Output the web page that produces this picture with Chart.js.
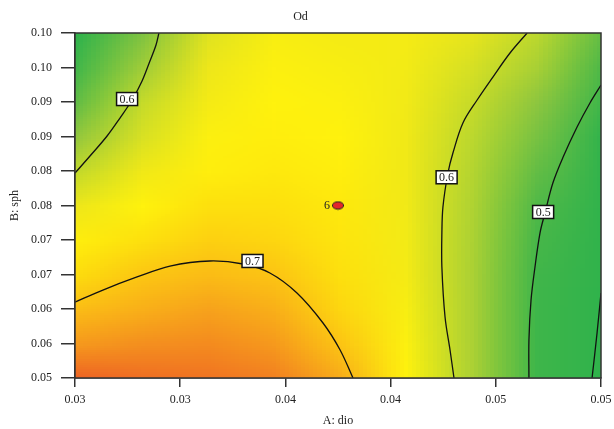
<!DOCTYPE html>
<html>
<head>
<meta charset="utf-8">
<script src="https://cdn.jsdelivr.net/npm/chart.js@4.4.0/dist/chart.umd.min.js"></script>
<style>
html, body { margin: 0; padding: 0; background: #fff; }
#wrap { width: 614px; height: 429px; }
</style>
</head>
<body>
<div id="wrap"><canvas id="odChart" width="614" height="429"></canvas></div>
<script>
// axes
var X_MIN = 0.03, X_MAX = 0.05;
var Y_MIN = 0.05, Y_MAX = 0.10;
var xTickValues = [0.030, 0.034, 0.038, 0.042, 0.046, 0.050];
var xTickLabels = ["0.03", "0.03", "0.04", "0.04", "0.05", "0.05"];
var yTickValues = [0.050, 0.055, 0.060, 0.065, 0.070, 0.075, 0.080, 0.085, 0.090, 0.095, 0.100];
var yTickLabels = ["0.05", "0.06", "0.06", "0.07", "0.07", "0.08", "0.08", "0.09", "0.09", "0.10", "0.10"];

// Od response (rows = B from 0.05 up, cols = A from 0.03)
var gridA = [0.030, 0.0325, 0.035, 0.0375, 0.040, 0.0425, 0.045, 0.0475, 0.050];
var gridB = [0.050, 0.055, 0.060, 0.065, 0.070, 0.075, 0.080, 0.085, 0.090, 0.095, 0.100];
var odGrid = [
    [0.80, 0.79, 0.785, 0.775, 0.73, 0.655, 0.583, 0.495, 0.38],
    [0.75, 0.76, 0.765, 0.75, 0.70, 0.65, 0.583, 0.495, 0.39],
    [0.71, 0.725, 0.74, 0.725, 0.685, 0.645, 0.583, 0.495, 0.397],
    [0.68, 0.698, 0.71, 0.70, 0.675, 0.64, 0.583, 0.498, 0.41],
    [0.66, 0.675, 0.69, 0.685, 0.67, 0.638, 0.584, 0.505, 0.425],
    [0.63, 0.655, 0.675, 0.675, 0.665, 0.636, 0.586, 0.515, 0.445],
    [0.60, 0.635, 0.66, 0.665, 0.66, 0.635, 0.59, 0.53, 0.465],
    [0.565, 0.615, 0.65, 0.66, 0.655, 0.635, 0.595, 0.545, 0.48],
    [0.53, 0.602, 0.64, 0.655, 0.65, 0.636, 0.603, 0.56, 0.495],
    [0.50, 0.575, 0.63, 0.65, 0.645, 0.638, 0.613, 0.58, 0.51],
    [0.47, 0.55, 0.62, 0.645, 0.64, 0.64, 0.625, 0.595, 0.53]
];

// contour lines [A, B]
var contourUL06 = [[0.0300, 0.0797], [0.03057, 0.08217], [0.03122, 0.08507], [0.03171, 0.08768], [0.03217, 0.09029], [0.03255, 0.09304], [0.03285, 0.09594], [0.03308, 0.09826], [0.03319, 0.1000]];
var contour07 = [[0.0300, 0.0610], [0.03106, 0.06275], [0.03236, 0.06464], [0.03361, 0.06623], [0.03513, 0.06696], [0.03639, 0.06652], [0.03741, 0.06522], [0.03844, 0.06232], [0.03943, 0.05797], [0.04008, 0.05406], [0.04057, 0.0500]];
var contourR06 = [[0.04719, 0.1000], [0.04654, 0.0971], [0.04589, 0.09362], [0.04529, 0.09029], [0.04475, 0.08696], [0.04437, 0.08261], [0.04418, 0.07971], [0.04399, 0.07478], [0.04395, 0.07101], [0.04395, 0.06609], [0.04407, 0.05884], [0.04426, 0.05406], [0.04441, 0.0500]];
var contour05 = [[0.0500, 0.09246], [0.04958, 0.08986], [0.04909, 0.08638], [0.04856, 0.08203], [0.04817, 0.07826], [0.04787, 0.07391], [0.04768, 0.07101], [0.04749, 0.06609], [0.04734, 0.0613], [0.04726, 0.05551], [0.04726, 0.0500]];
var contour04 = [[0.0500, 0.06232], [0.04985, 0.05652], [0.04966, 0.0500]];

var contourLabels = [
    { text: "0.6", x: 0.03198, y: 0.09043 },
    { text: "0.7", x: 0.03675, y: 0.06696 },
    { text: "0.6", x: 0.04413, y: 0.07909 },
    { text: "0.5", x: 0.04780, y: 0.07406 }
];

var designPoint = { x: 0.040, y: 0.075, count: "6" };

// colour scale value -> colour
var colorStops = [
    [0.48, [48, 179, 76]],
    [0.52, [85, 186, 71]],
    [0.56, [141, 198, 63]],
    [0.60, [195, 218, 43]],
    [0.63, [238, 231, 26]],
    [0.655, [255, 242, 13]],
    [0.68, [253, 220, 14]],
    [0.70, [252, 196, 20]],
    [0.74, [247, 162, 28]],
    [0.77, [243, 134, 32]],
    [0.80, [238, 98, 36]]
];

var FONT = "'Liberation Serif', 'DejaVu Serif', serif";
var INK = "#222";

function colorFor(v) {
    if (v <= colorStops[0][0]) return colorStops[0][1];
    for (var i = 1; i < colorStops.length; i++) {
        if (v <= colorStops[i][0]) {
            var a = colorStops[i - 1], b = colorStops[i];
            var t = (v - a[0]) / (b[0] - a[0]);
            return [0, 1, 2].map(function (k) { return Math.round(a[1][k] + (b[1][k] - a[1][k]) * t); });
        }
    }
    return colorStops[colorStops.length - 1][1];
}

function toXY(arr) {
    return arr.map(function (p) { return { x: p[0], y: p[1] }; });
}

function contourSet(arr) {
    return {
        data: toXY(arr),
        showLine: true,
        pointRadius: 0,
        borderColor: "#111",
        borderWidth: 1.3,
        tension: 0.35,
        fill: false
    };
}

// red ellipse for the centre point
function makeDot() {
    var c = document.createElement("canvas");
    c.width = 14; c.height = 10;
    var g = c.getContext("2d");
    g.beginPath();
    g.ellipse(7, 5, 5.6, 3.7, 0, 0, Math.PI * 2);
    g.fillStyle = "#e3262a";
    g.fill();
    g.lineWidth = 1;
    g.strokeStyle = "#222";
    g.stroke();
    return c;
}

var heatmapPlugin = {
    id: "heatmap",
    beforeDatasetsDraw: function (chart) {
        var ctx = chart.ctx, area = chart.chartArea;
        var xs = chart.scales.x, ys = chart.scales.y;
        var nc = gridA.length, nr = gridB.length;
        var img = document.createElement("canvas");
        img.width = nc; img.height = nr;
        var g = img.getContext("2d");
        var id = g.createImageData(nc, nr);
        for (var r = 0; r < nr; r++) {
            for (var c = 0; c < nc; c++) {
                var col = colorFor(odGrid[r][c]);
                var o = ((nr - 1 - r) * nc + c) * 4;
                id.data[o] = col[0]; id.data[o + 1] = col[1]; id.data[o + 2] = col[2]; id.data[o + 3] = 255;
            }
        }
        g.putImageData(id, 0, 0);
        var x0 = xs.getPixelForValue(gridA[0]), x1 = xs.getPixelForValue(gridA[nc - 1]);
        var y0 = ys.getPixelForValue(gridB[nr - 1]), y1 = ys.getPixelForValue(gridB[0]);
        var cw = (x1 - x0) / (nc - 1), ch = (y1 - y0) / (nr - 1);
        ctx.save();
        ctx.beginPath();
        ctx.rect(area.left, area.top, area.right - area.left, area.bottom - area.top);
        ctx.clip();
        ctx.imageSmoothingEnabled = true;
        ctx.imageSmoothingQuality = "low";
        ctx.drawImage(img, x0 - cw / 2, y0 - ch / 2, cw * nc, ch * nr);
        ctx.restore();
    }
};

var labelPlugin = {
    id: "labels",
    afterDatasetsDraw: function (chart) {
        var ctx = chart.ctx, area = chart.chartArea;
        var xs = chart.scales.x, ys = chart.scales.y;
        ctx.save();
        ctx.font = "12px " + FONT;
        ctx.textAlign = "center";
        ctx.textBaseline = "middle";
        contourLabels.forEach(function (l) {
            var px = xs.getPixelForValue(l.x), py = ys.getPixelForValue(l.y);
            var w = ctx.measureText(l.text).width + 6, h = 13;
            ctx.fillStyle = "#fff";
            ctx.fillRect(px - w / 2, py - h / 2, w, h);
            ctx.lineWidth = 1.5;
            ctx.strokeStyle = "#111";
            ctx.strokeRect(px - w / 2, py - h / 2, w, h);
            ctx.fillStyle = INK;
            ctx.fillText(l.text, px, py + 0.5);
        });
        ctx.textAlign = "right";
        ctx.fillText(designPoint.count, xs.getPixelForValue(designPoint.x) - 8, ys.getPixelForValue(designPoint.y) + 0.5);
        // frame
        ctx.lineWidth = 1.5;
        ctx.strokeStyle = "#333";
        ctx.strokeRect(area.left, area.top, area.right - area.left, area.bottom - area.top);
        ctx.restore();
    }
};

Chart.defaults.font.family = FONT;
Chart.defaults.color = INK;

var config = {
    type: "scatter",
    data: {
        datasets: [
            contourSet(contourUL06),
            contourSet(contour07),
            contourSet(contourR06),
            contourSet(contour05),
            contourSet(contour04),
            {
                data: [{ x: designPoint.x, y: designPoint.y }],
                pointStyle: makeDot(),
                pointRadius: 5,
                showLine: false
            }
        ]
    },
    options: {
        responsive: false,
        animation: false,
        layout: { padding: { left: 0, right: 13, top: 0, bottom: 0 } },
        plugins: {
            legend: { display: false },
            tooltip: { enabled: false },
            title: {
                display: true,
                text: "Od",
                color: INK,
                font: { size: 12, weight: "normal", family: FONT },
                padding: { top: 10, bottom: 8.6 }
            }
        },
        scales: {
            x: {
                type: "linear",
                min: X_MIN,
                max: X_MAX,
                afterBuildTicks: function (scale) {
                    scale.ticks = xTickValues.map(function (v) { return { value: v }; });
                },
                afterFit: function (scale) {
                    scale.height = 51;
                    scale.paddingLeft = 0;
                    scale.paddingRight = 0;
                },
                ticks: {
                    padding: 6,
                    maxRotation: 0,
                    font: { size: 12 },
                    callback: function (v, i) { return xTickLabels[i]; }
                },
                grid: { drawOnChartArea: false, tickLength: 9, color: "#333", lineWidth: 1.5 },
                border: { color: "#333", width: 1.5 },
                title: { display: true, text: "A: dio", font: { size: 12 }, padding: { top: 0, bottom: 1 } }
            },
            y: {
                type: "linear",
                min: Y_MIN,
                max: Y_MAX,
                afterBuildTicks: function (scale) {
                    scale.ticks = yTickValues.map(function (v) { return { value: v }; });
                },
                afterFit: function (scale) {
                    scale.width = 75;
                    scale.paddingTop = 0;
                    scale.paddingBottom = 0;
                },
                ticks: {
                    padding: 9,
                    font: { size: 12 },
                    callback: function (v, i) { return yTickLabels[i]; }
                },
                grid: { drawOnChartArea: false, tickLength: 14, color: "#333", lineWidth: 1.5 },
                border: { color: "#333", width: 1.5 },
                title: { display: true, text: "B: sph", font: { size: 12 }, padding: { top: 8, bottom: 0 } }
            }
        }
    },
    plugins: [heatmapPlugin, labelPlugin]
};

var odChart = new Chart(document.getElementById("odChart"), config);
</script>
</body>
</html>
